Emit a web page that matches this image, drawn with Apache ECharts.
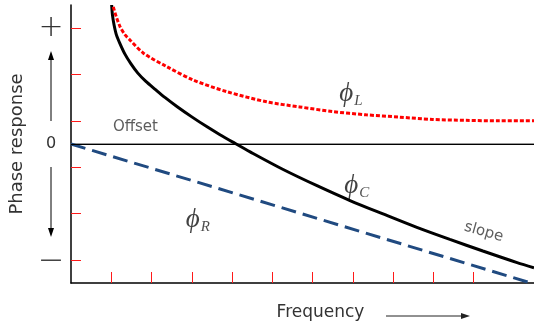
<!DOCTYPE html>
<html>
<head>
<meta charset="utf-8">
<script src="https://cdn.jsdelivr.net/npm/echarts@6/dist/echarts.min.js"></script>
<style>
  html, body { margin: 0; padding: 0; background: #fff; }
  #main { width: 534px; height: 326px; }
</style>
</head>
<body>
<div id="main"></div>
<script>
// 数据：频率 (x) / 相位 (y)
var freqTicks = [1, 2, 3, 4, 5, 6, 7, 8, 9, 10];
var phaseTicks = [-2.5, -1.5, -0.5, 0.5, 1.5, 2.5];
var phaseLabels = { "2.5": "{plus|+}", "0": "{zero|0}", "-2.5": "{minus|—}" };

var phiR = [[0, 0], [11.5, -3.02]];
var phiC = [
  [1.01, 3.0], [1.03, 2.78], [1.07, 2.57], [1.13, 2.35], [1.22, 2.16],
  [1.34, 1.94], [1.49, 1.73], [1.66, 1.53], [1.86, 1.35], [2.09, 1.18],
  [2.34, 1.00], [2.63, 0.81], [3.01, 0.58], [3.38, 0.37], [3.70, 0.20],
  [4.02, 0.04], [4.45, -0.17], [5.27, -0.55], [6.11, -0.90], [6.93, -1.22],
  [7.75, -1.51], [8.59, -1.80], [9.41, -2.06], [10.23, -2.31], [11.08, -2.56],
  [11.5, -2.67]
];
var phiL = [
  [1.05, 2.96], [1.12, 2.76], [1.22, 2.53], [1.34, 2.36], [1.47, 2.24],
  [1.80, 1.96], [2.38, 1.67], [3.04, 1.38], [3.87, 1.13], [4.86, 0.91],
  [5.68, 0.80], [6.50, 0.70], [7.33, 0.63], [8.16, 0.58], [8.98, 0.53],
  [9.81, 0.51], [10.64, 0.50], [11.5, 0.50]
];

// 图中文字标注的位置（数据坐标）
var notes = [
  { value: [6.95, 1.08], label: "{p|ϕ}{s|L}" },
  { value: [7.1, -0.9], label: "{p|ϕ}{s|C}" },
  { value: [3.15, -1.64], label: "{p|ϕ}{s|R}" },
  { value: [1.6, 0.37], label: "{t|Offset}" },
  { value: [10.25, -1.9], label: "{t|slope}", rotate: -16 }
];

var myChart = echarts.init(document.getElementById("main"));

var font = "DejaVu Sans";
var noteRich = {
  p: { fontFamily: "Liberation Serif", fontStyle: "italic", fontSize: 27, color: "#111" },
  s: { fontFamily: "Liberation Serif", fontStyle: "italic", fontSize: 15, color: "#222", padding: [14, 0, 0, 1] },
  t: { fontFamily: font, fontStyle: "normal", fontSize: 15, color: "#333" }
};

myChart.setOption({
  animation: false,
  grid: { left: 71, right: 0, top: 5, bottom: 43 },
  xAxis: [
    {
      type: "value",
      min: 0,
      max: 11.5,
      name: "Frequency",
      nameLocation: "middle",
      nameGap: 21,
      nameTextStyle: { fontFamily: font, fontSize: 17, color: "#333", padding: [0, 0, 0, 36] },
      axisLine: { onZero: false, lineStyle: { color: "#000", width: 1.5 } },
      axisTick: { show: true, inside: true, length: 11, customValues: freqTicks, lineStyle: { color: "#ff1a1a", width: 1 } },
      axisLabel: { show: false },
      splitLine: { show: false }
    },
    {
      type: "value",
      position: "top",
      min: 0,
      max: 11.5,
      axisLine: { show: true, lineStyle: { color: "#777", width: 1.5 } },
      axisTick: { show: false },
      axisLabel: { show: false },
      splitLine: { show: false }
    }
  ],
  yAxis: {
    type: "value",
    min: -3,
    max: 3,
    name: "Phase response",
    nameLocation: "middle",
    nameGap: 45,
    nameTextStyle: { fontFamily: font, fontSize: 18, color: "#333" },
    axisLine: { show: true, onZero: false, lineStyle: { color: "#000", width: 1.5 } },
    axisTick: { show: true, inside: true, length: 10, customValues: phaseTicks, lineStyle: { color: "#ff1a1a", width: 1 } },
    axisLabel: {
      show: true,
      customValues: [2.5, 0, -2.5],
      align: "center",
      margin: 20,
      formatter: function (v) { return phaseLabels[String(v)]; },
      rich: {
        plus: { fontFamily: "DejaVu Sans", fontWeight: 200, fontSize: 30, color: "#333" },
        zero: { fontFamily: font, fontSize: 16, color: "#333" },
        minus: { fontFamily: "DejaVu Sans", fontSize: 22, color: "#444" }
      }
    },
    splitLine: { show: false }
  },
  graphic: [
    // 纵轴上下箭头
    { type: "line", shape: { x1: 51, y1: 121, x2: 51, y2: 56 }, style: { stroke: "#000", lineWidth: 1 } },
    { type: "polygon", shape: { points: [[51, 51], [48, 60], [54, 60]] }, style: { fill: "#000" } },
    { type: "line", shape: { x1: 51, y1: 167, x2: 51, y2: 232 }, style: { stroke: "#000", lineWidth: 1 } },
    { type: "polygon", shape: { points: [[51, 237], [48, 228], [54, 228]] }, style: { fill: "#000" } },
    // 频率箭头
    { type: "line", shape: { x1: 386, y1: 316, x2: 465, y2: 316 }, style: { stroke: "#222", lineWidth: 1 } },
    { type: "polygon", shape: { points: [[470, 316], [461, 313], [461, 319]] }, style: { fill: "#222" } }
  ],
  series: [
    {
      name: "phiR",
      type: "line",
      data: phiR,
      symbol: "none",
      lineStyle: { color: "#204a80", width: 3, type: [15, 7] },
      markLine: {
        silent: true,
        symbol: "none",
        label: { show: false },
        lineStyle: { color: "#000", width: 1, type: "solid" },
        data: [{ yAxis: 0 }]
      }
    },
    {
      name: "phiC",
      type: "line",
      data: phiC,
      symbol: "none",
      smooth: 0.3,
      lineStyle: { color: "#000", width: 3 }
    },
    {
      name: "phiL",
      type: "line",
      data: phiL,
      symbol: "none",
      smooth: 0.3,
      lineStyle: { color: "#ff0000", width: 3, type: [4, 2] }
    },
    {
      name: "notes",
      type: "scatter",
      symbolSize: 0,
      silent: true,
      data: notes.map(function (n) {
        return {
          value: n.value,
          label: {
            show: true,
            position: "inside",
            formatter: n.label,
            rotate: n.rotate || 0,
            rich: noteRich
          }
        };
      })
    }
  ]
});
</script>
</body>
</html>
